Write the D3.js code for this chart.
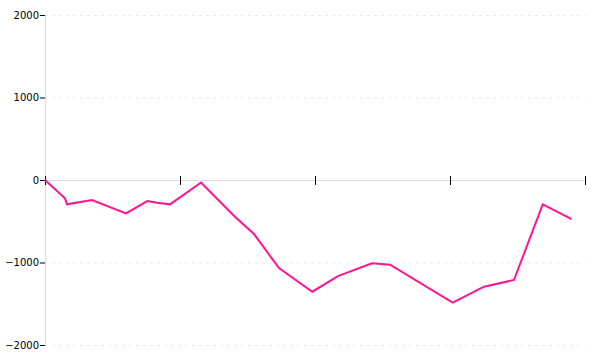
<!DOCTYPE html>
<html>
<head>
<meta charset="utf-8">
<script src="https://cdn.jsdelivr.net/npm/d3@7"></script>
<style>
    body { margin: 0; background: #fff; }
    .axis text { font-family: "DejaVu Sans", sans-serif; font-size: 10px; fill: #000; }
    .axis .domain { stroke: #ddd; }
    .axis .tick line { stroke: #000; }
    .grid line { stroke: #e8e8e8; stroke-dasharray: 3,4; }
    .grid .domain { display: none; }
</style>
</head>
<body>
<div id="chart"></div>
<script>
// ... chart data
const xValues = [0, 0.148, 0.163, 0.348, 0.6, 0.758, 0.83, 0.926, 1.156, 1.407, 1.548,
    1.733, 1.98, 2.17, 2.422, 2.556, 3.02, 3.252, 3.474, 3.687, 3.901];
const yValues = [0, -222, -295, -242, -404, -255, -275, -295, -30, -445, -655,
    -1067, -1354, -1164, -1010, -1027, -1487, -1293, -1212, -295, -473];
const xTicks = [0, 1, 2, 3, 4];
const yTicks = [-2000, -1000, 0, 1000, 2000];

const margin = { top: 15, right: 15, bottom: 15, left: 45 };
const width = 600 - margin.left - margin.right;
const height = 360 - margin.top - margin.bottom;

const data = xValues.map((x, i) => ({ x: x, y: yValues[i] }));

const x = d3.scaleLinear()
    .range([0, width])
    .domain([0, 4]);

const y = d3.scaleLinear()
    .range([height, 0])
    .domain([-2000, 2000]);

const svg = d3.select('#chart').append('svg')
    .attr('width', 600)
    .attr('height', 360)
    .append('g')
    .attr('transform', 'translate(' + margin.left + ',' + margin.top + ')');

// ... dashed grid
svg.append('g')
    .attr('class', 'grid')
    .call(d3.axisLeft(y)
        .tickValues(yTicks.filter(d => d !== 0))
        .tickSize(-width)
        .tickFormat(''));

// ... y axis
svg.append('g')
    .attr('class', 'axis')
    .call(d3.axisLeft(y)
        .tickValues(yTicks)
        .tickSize(5)
        .tickPadding(1)
        .tickSizeOuter(0)
        .tickFormat(d3.format('d')));

// ... x axis through zero, ticks crossing the line
const xAxis = svg.append('g')
    .attr('class', 'axis')
    .attr('transform', 'translate(0,' + y(0) + ')')
    .call(d3.axisBottom(x)
        .tickValues(xTicks)
        .tickSizeOuter(0)
        .tickFormat(''));

xAxis.selectAll('.tick line')
    .attr('y1', -4)
    .attr('y2', 5);

// ... line
const line = d3.line()
    .x(d => x(d.x))
    .y(d => y(d.y));

svg.append('path')
    .datum(data)
    .attr('fill', 'none')
    .attr('stroke', '#ff1493')
    .attr('stroke-width', 2)
    .attr('d', line);
</script>
</body>
</html>
